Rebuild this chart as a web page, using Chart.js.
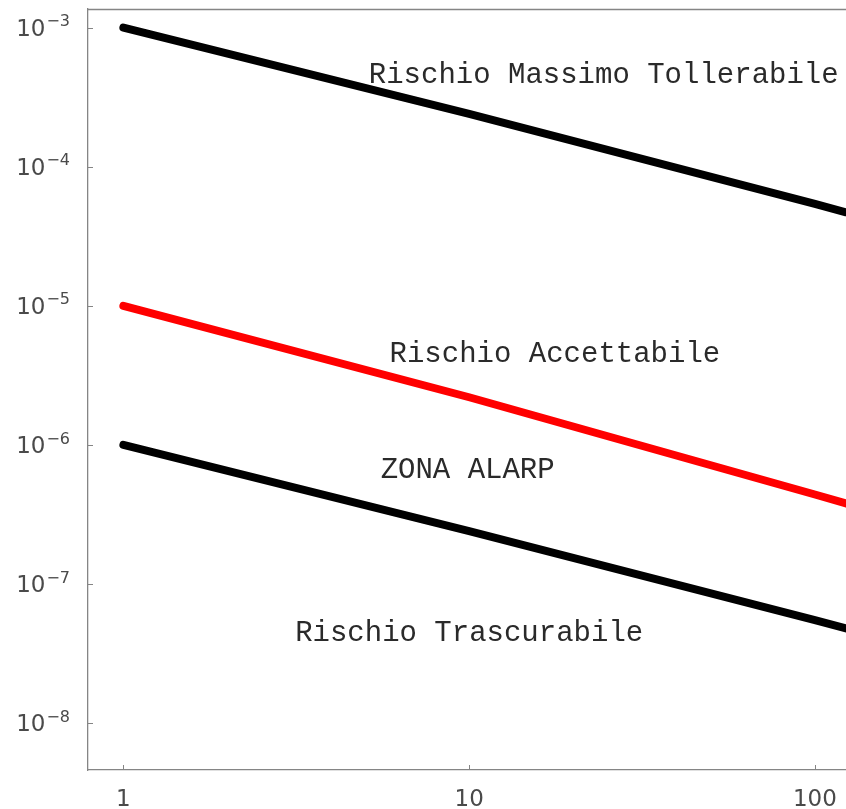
<!DOCTYPE html>
<html>
<head>
<meta charset="utf-8">
<script src="https://cdn.jsdelivr.net/npm/chart.js@4.4.0/dist/chart.umd.min.js"></script>
<style>
  html, body { margin: 0; padding: 0; background: #fff; }
  canvas { display: block; }
</style>
</head>
<body>
<canvas id="chart" width="846" height="809"></canvas>
<script>
// N (numero di vittime) sull'asse x, frequenza annua F sull'asse y
const frequency = [1, 10, 100, 123];
const limitMax = [1e-3, 2.4e-4, 5.4e-5, 4.7e-5];
const limitAcceptable = [1e-5, 2.2e-6, 4.4e-7, 3.8e-7];
const limitNegligible = [1e-6, 2.4e-7, 5.5e-8, 4.8e-8];

const xTicks = [1, 10, 100];
const yTicks = [1e-3, 1e-4, 1e-5, 1e-6, 1e-7, 1e-8];

// scritte delle zone: testo e punto (N, F) del centro
const zoneText = ['Rischio Massimo Tollerabile', 'Rischio Accettabile', 'ZONA ALARP', 'Rischio Trascurabile'];
const zoneN = [24.5, 17.7, 9.9, 10];
const zoneF = [4.55e-4, 4.45e-6, 6.6e-7, 4.45e-8];

const axisColor = '#858585';
const labelColor = '#4a4a4a';
const labelFont = '"DejaVu Sans", sans-serif';

function toPoints(values) {
    return frequency.map((n, i) => ({ x: n, y: values[i] }));
}

function line(values, color) {
    return {
        data: toPoints(values),
        borderColor: color,
        borderWidth: 8,
        borderCapStyle: 'round',
        pointRadius: 0,
        tension: 0,
        fill: false,
    };
}

// cornice superiore, tacche interne ed etichette degli assi
const framePlugin = {
    id: 'frame',
    afterDraw(chart) {
        const { ctx, chartArea, scales: { x, y } } = chart;
        ctx.save();
        ctx.strokeStyle = axisColor;
        ctx.lineWidth = 1.3;
        ctx.beginPath();
        ctx.moveTo(chartArea.left, chartArea.top + 0.5);
        ctx.lineTo(chartArea.right, chartArea.top + 0.5);
        ctx.stroke();

        ctx.lineWidth = 1;
        ctx.beginPath();
        xTicks.forEach(v => {
            const px = Math.round(x.getPixelForValue(v)) + 0.5;
            ctx.moveTo(px, chartArea.bottom);
            ctx.lineTo(px, chartArea.bottom - 5);
        });
        yTicks.forEach(v => {
            const py = Math.round(y.getPixelForValue(v)) + 0.5;
            ctx.moveTo(chartArea.left, py);
            ctx.lineTo(chartArea.left + 5, py);
        });
        ctx.stroke();

        ctx.fillStyle = labelColor;
        ctx.textBaseline = 'alphabetic';

        // etichette x
        ctx.font = '23px ' + labelFont;
        ctx.textAlign = 'center';
        xTicks.forEach(v => {
            ctx.fillText(String(v), x.getPixelForValue(v), 806);
        });

        // etichette y in forma 10^e
        ctx.textAlign = 'left';
        const rightEdge = 70;
        yTicks.forEach(v => {
            const py = y.getPixelForValue(v);
            const exp = '\u2212' + String(-Math.round(Math.log10(v)));
            ctx.font = '16px ' + labelFont;
            const expW = ctx.measureText(exp).width;
            ctx.font = '23px ' + labelFont;
            const baseW = ctx.measureText('10').width;
            const left = rightEdge - expW - baseW - 1;
            ctx.fillText('10', left, py + 8);
            ctx.font = '16px ' + labelFont;
            ctx.fillText(exp, left + baseW + 1, py - 1.3);
        });
        ctx.restore();
    },
    afterDatasetsDraw(chart) {
        const { ctx, scales: { x, y } } = chart;
        ctx.save();
        ctx.font = '29px "Liberation Mono", "Courier New", monospace';
        ctx.fillStyle = '#2a2a2a';
        ctx.textAlign = 'center';
        ctx.textBaseline = 'middle';
        zoneText.forEach((t, i) => {
            ctx.fillText(t, x.getPixelForValue(zoneN[i]), y.getPixelForValue(zoneF[i]));
        });
        ctx.restore();
    }
};

const axisOptions = (min, max, ticks, fit) => ({
    type: 'logarithmic',
    min: min,
    max: max,
    afterBuildTicks: scale => { scale.ticks = ticks.map(v => ({ value: v })); },
    afterFit: fit,
    ticks: { display: false },
    grid: { display: true, drawOnChartArea: false, drawTicks: false },
    border: { display: true, color: axisColor, width: 1.3 },
});

new Chart(document.getElementById('chart'), {
    type: 'line',
    data: {
        datasets: [
            line(limitMax, '#000000'),
            line(limitAcceptable, '#ff0000'),
            line(limitNegligible, '#000000'),
        ],
    },
    options: {
        responsive: false,
        animation: false,
        layout: { padding: { top: 9, right: 0, bottom: 0, left: 0 } },
        plugins: {
            legend: { display: false },
            tooltip: { enabled: false },
        },
        scales: {
            x: axisOptions(0.79, 123, xTicks, s => { s.height = 39; }),
            y: axisOptions(4.6e-9, 1.36e-3, yTicks, s => { s.width = 88; }),
        },
    },
    plugins: [framePlugin],
});
</script>
</body>
</html>
